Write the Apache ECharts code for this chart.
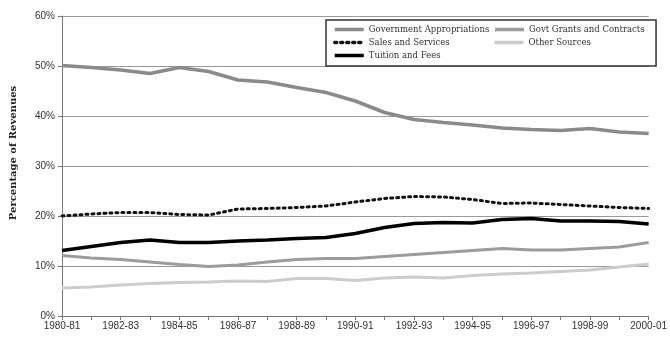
<!DOCTYPE html>
<html><head><meta charset="utf-8">
<script src="https://cdn.jsdelivr.net/npm/echarts@6/dist/echarts.min.js"></script>
<style>html,body{margin:0;padding:0;background:#fff}#c{width:670px;height:338px}</style>
</head><body><div id="c"></div>
<script>
var years = ['1980-81','1981-82','1982-83','1983-84','1984-85','1985-86','1986-87','1987-88','1988-89','1989-90','1990-91','1991-92','1992-93','1993-94','1994-95','1995-96','1996-97','1997-98','1998-99','1999-00','2000-01'];
var govtAppropriations = [50.1,49.7,49.2,48.5,49.7,48.9,47.2,46.8,45.7,44.7,43.0,40.7,39.3,38.7,38.2,37.6,37.3,37.1,37.5,36.8,36.5];
var govtGrants = [12.1,11.6,11.3,10.8,10.3,9.9,10.2,10.8,11.3,11.5,11.5,11.9,12.3,12.7,13.1,13.5,13.2,13.2,13.5,13.8,14.7];
var salesServices = [20.0,20.4,20.7,20.7,20.3,20.2,21.4,21.5,21.7,22.0,22.8,23.5,23.9,23.8,23.3,22.5,22.6,22.3,22.0,21.7,21.5];
var tuitionFees = [13.1,13.9,14.7,15.2,14.7,14.7,15.0,15.2,15.5,15.7,16.5,17.7,18.5,18.7,18.6,19.3,19.5,19.0,19.0,18.9,18.4];
var otherSources = [5.6,5.8,6.2,6.5,6.7,6.8,7.0,6.9,7.5,7.5,7.1,7.6,7.8,7.6,8.1,8.4,8.6,8.9,9.2,9.8,10.4];
var seriesNames = ['Government Appropriations','Govt Grants and Contracts','Sales and Services','Other Sources','Tuition and Fees'];

var chart = echarts.init(document.getElementById('c'), null, {renderer:'canvas'});
function mk(name, data, color, width, type, z){
  return {name:name, type:'line', data:data, symbol:'none', showSymbol:false, smooth:false, z:z,
    lineStyle:{color:color, width:width, type:type||'solid', cap: type && type!=='solid' ? 'round':'butt'},
    itemStyle:{color:color}, emphasis:{disabled:true}};
}
chart.setOption({
  animation:false,
  grid:{left:62, right:20, top:16, bottom:22},
  legend:{
    data:seriesNames, left:326, top:20, width:322, orient:'horizontal',
    padding:[5,7,6,7], itemGap:4, itemWidth:29, itemHeight:7,
    borderColor:'#333', borderWidth:1.5, backgroundColor:'#fff',
    itemStyle:{opacity:0},
    lineStyle:{width:3.5},
    textStyle:{fontFamily:'DejaVu Serif', fontSize:8.5, color:'#333', width:120, lineHeight:7},
    selectedMode:false
  },
  xAxis:{
    type:'category', data:years, boundaryGap:false,
    axisLine:{lineStyle:{color:'#777', width:1}},
    axisTick:{show:true, alignWithLabel:true, interval:0, length:4, lineStyle:{color:'#777'}},
    axisLabel:{interval:1, fontFamily:'Liberation Sans', fontSize:10, color:'#333', margin:5},
    splitLine:{show:false}
  },
  yAxis:{
    type:'value', min:0, max:60, interval:10,
    name:'Percentage of Revenues', nameLocation:'middle', nameGap:44,
    nameTextStyle:{fontFamily:'DejaVu Serif', fontWeight:'bold', fontSize:10, color:'#222', padding:[0,0,0,26]},
    axisLine:{show:true, lineStyle:{color:'#777', width:1}},
    axisTick:{show:true, length:4, lineStyle:{color:'#777'}},
    axisLabel:{formatter:'{value}%', fontFamily:'Liberation Sans', fontSize:10, color:'#333', margin:7},
    splitLine:{show:true, lineStyle:{color:'#999', width:1}}
  },
  series:[
    mk(seriesNames[0], govtAppropriations, '#8a8a8a', 3.5, 'solid', 3),
    mk(seriesNames[1], govtGrants, '#9c9c9c', 3, 'solid', 3),
    mk(seriesNames[2], salesServices, '#111', 3, [2,4], 4),
    mk(seriesNames[3], otherSources, '#cccccc', 3, 'solid', 3),
    mk(seriesNames[4], tuitionFees, '#000', 3.5, 'solid', 5)
  ]
});
</script></body></html>
